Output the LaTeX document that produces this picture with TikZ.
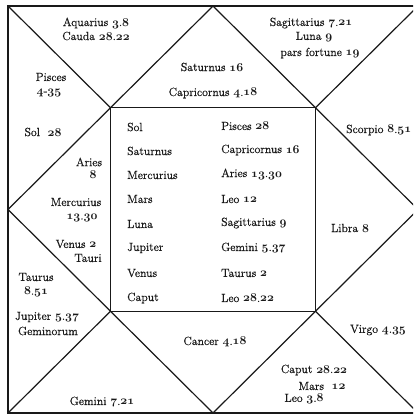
\documentclass[tikz,border=0pt]{standalone}
\usepackage{fontspec}
\newfontfamily\heavy{Latin Modern Roman}[FakeBold=0.7]
\newcommand\os[1]{{\usefont{OML}{cmm}{b}{it}#1}}
\begin{document}
\begin{tikzpicture}[x=1pt,y=-1pt,
  lbl/.style={inner sep=0pt,font=\heavy\fontsize{11.8}{13}\selectfont,text=black!90},
  ln/.style={line width=1.2pt,draw=black!90,line cap=round}]
\useasboundingbox (0,0) rectangle (413,415);
\fill[white] (0,0) rectangle (413,415);
\clip (0,0) rectangle (413,415);
% outer square corners
\coordinate (OTL) at (8,6);
\coordinate (OTR) at (418,6);
\coordinate (OBR) at (418,413);
\coordinate (OBL) at (8,413);
% diamond tips
\coordinate (DT) at (213,6);
\coordinate (DR) at (418,209.5);
\coordinate (DB) at (213,413);
\coordinate (DL) at (8,209.5);
% inner square corners
\coordinate (ITL) at (110.5,107.75);
\coordinate (ITR) at (315.5,107.75);
\coordinate (IBR) at (315.5,311.25);
\coordinate (IBL) at (110.5,311.25);
\draw[ln] (OTL) -- (OTR) -- (OBR) -- (OBL) -- cycle;
\draw[ln] (DT) -- (DR) -- (DB) -- (DL) -- cycle;
\draw[ln] (ITL) -- (ITR) -- (IBR) -- (IBL) -- cycle;
\draw[ln] (OTL) -- (ITL);
\draw[ln] (OTR) -- (ITR);
\draw[ln] (OBR) -- (IBR);
\draw[ln] (OBL) -- (IBL);
% top-left triangle
\node[lbl] (aqu) at (96,23) {Aquarius \os{3}.\os{8}};
\node[lbl] (cau) at (96,36) {Cauda \os{28}.\os{22}};
% left upper
\node[lbl] (pis) at (51,77) {Pisces};
\node[lbl] (pisn) at (49,93) {\os{4}-\os{35}};
\node[lbl] (sol) at (43,132) {Sol\ \ \os{28}};
\node[lbl] (ari) at (89,162) {Aries};
\node[lbl] (arin) at (93,175) {\os{8}};
\node[lbl] (mer) at (76,202) {Mercurius};
\node[lbl] (mern) at (82,218) {\os{13}.\os{30}};
\node[lbl] (ven) at (76,244) {Venus \os{2}};
\node[lbl] (tau) at (88,258) {Tauri};
% left lower
\node[lbl] (taur) at (36,277) {Taurus};
\node[lbl] (taurn) at (36,292) {\os{8}.\os{51}};
\node[lbl] (jup) at (47,317) {Jupiter \os{5}.\os{37}};
\node[lbl] (gemo) at (48,331) {Geminorum};
\node[lbl] (gem) at (102,402) {Gemini \os{7}.\os{21}};
% top middle
\node[lbl] (sat) at (212,67) {Saturnus \os{16}};
\node[lbl] (cap) at (213,93) {Capricornus \os{4}.\os{18}};
% top right
\node[lbl] (sag) at (311,23) {Sagittarius \os{7}.\os{21}};
\node[lbl] (lun) at (314,37) {Luna \os{9}};
\node[lbl] (par) at (320,53) {pars fortune \os{19}};
% right
\node[lbl,anchor=west] (sco) at (346,130) {Scorpio \os{8}.\os{51}};
\node[lbl] (lib) at (350,228) {Libra \os{8}};
\node[lbl] (vir) at (378,330) {Virgo \os{4}.\os{35}};
% bottom
\node[lbl] (can) at (215,342) {Cancer \os{4}.\os{18}};
\node[lbl] (cpt) at (314,370) {Caput \os{28}.\os{22}};
\node[lbl] (mar) at (322,386) {Mars\ \ \os{12}};
\node[lbl] (leo) at (304,399) {Leo \os{3}.\os{8}};
% inner columns
\foreach \nm/\yy/\tx in {a/127/Sol, b/151/Saturnus, c/175/Mercurius, d/199/Mars,
  e/224/Luna, f/248/Jupiter, g/273/Venus, h/298/Caput}
  \node[lbl,anchor=west] (L\nm) at (127,\yy) {\tx};
\foreach \nm/\yy/\tx in {a/126/{Pisces \os{28}}, b/150/{Capricornus \os{16}},
  c/174/{Aries \os{13}.\os{30}}, d/199/{Leo \os{12}}, e/223/{Sagittarius \os{9}},
  f/248/{Gemini \os{5}.\os{37}}, g/273/{Taurus \os{2}}, h/298/{Leo \os{28}.\os{22}}}
  \node[lbl,anchor=west] (R\nm) at (221,\yy) {\tx};
\end{tikzpicture}
\end{document}
